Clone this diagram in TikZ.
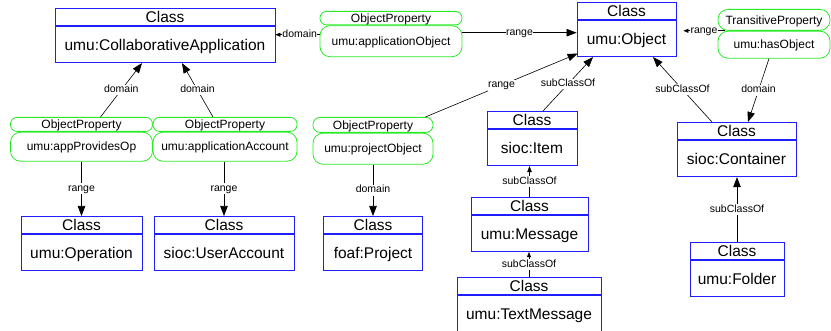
\documentclass[tikz,border=0pt]{standalone}
\usepackage{fontspec}
\setmainfont{Liberation Sans}
\usetikzlibrary{arrows.meta}

\definecolor{clsblue}{RGB}{30,30,255}
\definecolor{propgreen}{RGB}{40,235,40}

\tikzset{
  clshead/.style={draw=clsblue, line width=0.8pt, rectangle, inner sep=0pt,
    minimum height=17.5pt, font=\fontsize{15.5}{16}\selectfont,
    text height=11.1pt, text depth=0pt},
  clsbody/.style={clshead, minimum height=36pt, anchor=north},
  prophead/.style={draw=propgreen, line width=0.8pt, rectangle, inner sep=0pt,
    font=\fontsize{12}{13}\selectfont, text height=8.6pt, text depth=0pt},
  propbody/.style={prophead, rounded corners=10pt, anchor=north},
  link/.style={draw=black, line width=0.6pt, -{Triangle[length=10pt,width=7.5pt]}},
  smalltip/.style={-{Triangle[length=6pt,width=4.5pt]}},
  tinytip/.style={-{Triangle[length=5pt,width=4pt]}},
  lbl/.style={fill=white, inner sep=0.5pt, font=\fontsize{10.5}{11}\selectfont,
    text height=7.6pt, text depth=2.2pt}
}

% class box: name, centre x, top y, width, class name
\newcommand\classbox[5]{%
  \node[clshead, minimum width=#4pt, anchor=north] (#1-h) at (#2,#3) {Class};
  \node[clsbody, minimum width=#4pt] (#1) at (#1-h.south) {#5};
}
% property pill: name, centre x, top y, width, head height, body height,
% head text, body text, head corner radius
\newcommand\propbox[9]{%
  \node[prophead, anchor=north, minimum width=#4pt, minimum height=#5pt,
        rounded corners=#9pt] (#1-h) at (#2,#3) {#7};
  \node[propbody, minimum width=#4pt, minimum height=#6pt] (#1) at (#1-h.south) {#8};
}

\begin{document}
\begin{tikzpicture}[x=1pt,y=-1pt]
\useasboundingbox (0,0) rectangle (831,331);

% classes
\classbox{ca}{165}{8}{220}{umu:CollaborativeApplication}
\classbox{obj}{626.5}{2}{99}{umu:Object}
\classbox{ct}{736.5}{122}{119}{sioc:Container}
\classbox{item}{532}{111}{90}{sioc:Item}
\classbox{msg}{529.5}{197}{117}{umu:Message}
\classbox{tm}{529}{277}{144}{umu:TextMessage}
\classbox{fd}{737}{242}{94}{umu:Folder}
\classbox{op}{81.5}{216}{121}{umu:Operation}
\classbox{ua}{224}{216}{140}{sioc:UserAccount}
\classbox{pj}{373}{216}{99}{foaf:Project}

% properties
\propbox{p1}{81.5}{117}{142}{14}{29}{ObjectProperty}{umu:appProvidesOp}{6.5}
\propbox{p2}{225}{117}{144}{14}{29}{ObjectProperty}{umu:applicationAccount}{6.5}
\propbox{p3}{373}{117}{120}{15}{31}{ObjectProperty}{umu:projectObject}{7}
\propbox{p4}{391}{11}{142}{13.5}{31}{ObjectProperty}{umu:applicationObject}{6.5}
\propbox{p5}{774}{9}{112}{21}{27}{TransitiveProperty}{umu:hasObject}{10}

% domain / range links
\draw[link] ([xshift=19pt]p1-h.north) -- ([xshift=-23pt]ca.south)
  node[lbl, midway] {domain};
\draw[link] ([xshift=-12pt]p2-h.north) -- ([xshift=17pt]ca.south)
  node[lbl, midway] {domain};
\draw[link] (p1.south) -- (p1.south |- op-h.north) node[lbl, midway] {range};
\draw[link] ([xshift=-1pt]p2.south) -- ([xshift=-1pt]p2.south |- ua-h.north)
  node[lbl, midway] {range};
\draw[link] (p3.south) -- (p3.south |- pj-h.north) node[lbl, midway] {domain};
\draw[link] ([xshift=-8pt]p3-h.north east) -- ([xshift=1pt,yshift=3.5pt]obj.south west)
  node[lbl, midway] {range};
\draw[link, tinytip] ([yshift=6.5pt]p4.west) -- ([yshift=6.5pt]p4.west -| ca.east)
  node[lbl, pos=0.45] {domain};
\draw[link] ([yshift=8.5pt]p4.east) -- ([yshift=8.5pt]p4.east -| obj.west)
  node[lbl, midway] {range};
\draw[link, tinytip] ([xshift=7pt]p5-h.south west) -- ([xshift=7pt]p5-h.south west -| obj.east)
  node[lbl, midway] {range};
\draw[link] ([xshift=-5pt]p5.south) -- ([xshift=11.5pt]ct-h.north)
  node[lbl, midway] {domain};

% subclass links
\draw[link] ([xshift=-24.5pt]ct-h.north) -- ([xshift=26.5pt]obj.south)
  node[lbl, midway] {subClassOf};
\draw[link] ([xshift=11pt]item-h.north) -- ([xshift=-33.5pt]obj.south)
  node[lbl, midway] {subClassOf};
\draw[link, smalltip] (msg-h.north) -- (msg-h.north |- item.south)
  node[lbl, midway] {subClassOf};
\draw[link, tinytip] (tm-h.north) -- (tm-h.north |- msg.south)
  node[lbl, midway] {subClassOf};
\draw[link] (fd-h.north) -- (fd-h.north |- ct.south)
  node[lbl, midway] {subClassOf};
\end{tikzpicture}
\end{document}
